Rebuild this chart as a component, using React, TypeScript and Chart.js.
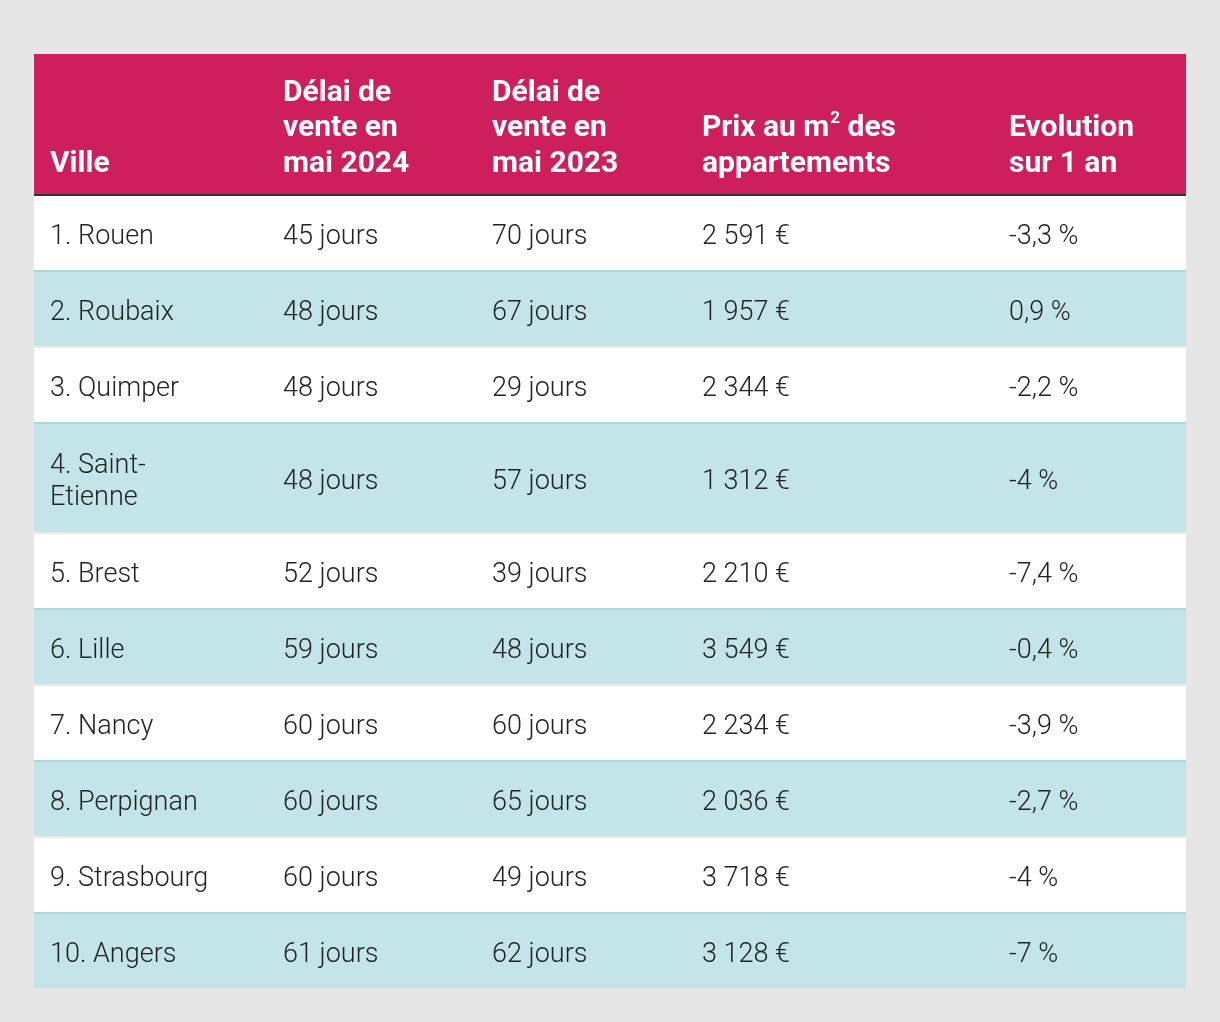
import React, { useEffect, useRef } from "react";
import { Chart, registerables } from "chart.js";
Chart.register(...registerables);

const headers: string[][] = [
  ["Ville"],
  ["Délai de", "vente en", "mai 2024"],
  ["Délai de", "vente en", "mai 2023"],
  ["Prix au m² des", "appartements"],
  ["Evolution", "sur 1 an"],
];
const cities: string[][] = [
  ["1. Rouen"],
  ["2. Roubaix"],
  ["3. Quimper"],
  ["4. Saint-", "Etienne"],
  ["5. Brest"],
  ["6. Lille"],
  ["7. Nancy"],
  ["8. Perpignan"],
  ["9. Strasbourg"],
  ["10. Angers"],
];
const delai2024 = [45, 48, 48, 48, 52, 59, 60, 60, 60, 61];
const delai2023 = [70, 67, 29, 57, 39, 48, 60, 65, 49, 62];
const prixM2 = [2591, 1957, 2344, 1312, 2210, 3549, 2234, 2036, 3718, 3128];
const evolution = [-3.3, 0.9, -2.2, -4, -7.4, -0.4, -3.9, -2.7, -4, -7];

const TABLE_W = 1152;
const HEADER_H = 140;
const ROW_H = 76;
const EXTRA_LINE_H = 34;
const COL_STARTS = [0, 233, 442, 652, 959];
const PAD = 16;

const HEADER_BG = "#cc1f5b";
const TEAL = "#c3e5e9";
const TEAL_BORDER = "#acd5da";
const WHITE_BORDER = "#e9e9e9";
const DARK_BORDER = "#333333";
const TEXT = "#222222";
const HEAD_FONT = "700 30px Roboto";
const HEAD_SUP_FONT = "700 17px Roboto";
const BODY_FONT = "300 27px Roboto";

const fmtPrix = (v: number) => {
  const th = Math.floor(v / 1000);
  const rest = String(v % 1000).padStart(3, "0");
  return `${th} ${rest} €`;
};
const fmtEvol = (v: number) => `${String(v).replace(".", ",")} %`;

const rowsText: string[][][] = cities.map((c, i) => [
  c,
  [`${delai2024[i]} jours`],
  [`${delai2023[i]} jours`],
  [fmtPrix(prixM2[i])],
  [fmtEvol(evolution[i])],
]);

const rowHeights = rowsText.map(
  (r) => ROW_H + (Math.max(...r.map((c) => c.length)) - 1) * EXTRA_LINE_H
);
const TOTAL_H = HEADER_H + rowHeights.reduce((a, b) => a + b, 0);

function drawSup(ctx: CanvasRenderingContext2D, text: string, x: number, y: number) {
  const parts = text.split("²");
  let cx = x;
  parts.forEach((p, i) => {
    ctx.font = HEAD_FONT;
    ctx.fillText(p, cx, y);
    cx += ctx.measureText(p).width;
    if (i < parts.length - 1) {
      ctx.font = HEAD_SUP_FONT;
      ctx.fillText("2", cx + 1, y - 10);
      cx += ctx.measureText("2").width + 1;
    }
  });
}

const tablePlugin = {
  id: "tablePlugin",
  beforeDatasetsDraw(chart: any) {
    const ctx: CanvasRenderingContext2D = chart.ctx;
    const xs = chart.scales.x;
    const ys = chart.scales.y;
    const X = (v: number) => xs.getPixelForValue(v);
    const Y = (v: number) => ys.getPixelForValue(v);
    ctx.save();
    // header
    ctx.fillStyle = HEADER_BG;
    ctx.fillRect(X(0), Y(0), X(TABLE_W) - X(0), Y(HEADER_H) - Y(0));
    ctx.textBaseline = "middle";
    ctx.fillStyle = "#ffffff";
    headers.forEach((lines, c) => {
      const n = lines.length;
      lines.forEach((ln, i) => {
        const yv = HEADER_H - 30 - (n - 1 - i) * 35.5;
        drawSup(ctx, ln, X(COL_STARTS[c] + PAD), Y(yv));
      });
    });
    // rows
    let top = HEADER_H;
    rowsText.forEach((row, r) => {
      const h = rowHeights[r];
      const teal = r % 2 === 1;
      ctx.fillStyle = teal ? TEAL : "#ffffff";
      ctx.fillRect(X(0), Y(top), X(TABLE_W) - X(0), Y(top + h) - Y(top));
      ctx.fillStyle = r === 0 ? DARK_BORDER : teal ? TEAL_BORDER : WHITE_BORDER;
      ctx.fillRect(X(0), Y(top), X(TABLE_W) - X(0), Y(top + 2) - Y(top));
      const center = top + 2 + (h - 2) / 2 + 4.5;
      ctx.fillStyle = TEXT;
      ctx.font = BODY_FONT;
      row.forEach((lines, c) => {
        const n = lines.length;
        lines.forEach((ln, i) => {
          const yv = center + (i - (n - 1) / 2) * 32;
          ctx.fillText(ln, X(COL_STARTS[c] + PAD), Y(yv));
        });
      });
      top += h;
    });
    ctx.restore();
  },
};

export default function App() {
  const ref = useRef<HTMLCanvasElement | null>(null);
  useEffect(() => {
    document.body.style.margin = "0";
    const chart = new Chart(ref.current as HTMLCanvasElement, {
      type: "scatter",
      data: { datasets: [{ data: [], pointRadius: 0 }] },
      options: {
        animation: false,
        responsive: false,
        maintainAspectRatio: false,
        devicePixelRatio: 1,
        layout: { padding: { left: 34, right: 34, top: 54, bottom: 1022 - 54 - TOTAL_H } },
        plugins: { legend: { display: false }, tooltip: { enabled: false } },
        scales: {
          x: { type: "linear", min: 0, max: TABLE_W, display: false },
          y: { type: "linear", min: 0, max: TOTAL_H, reverse: true, display: false },
        },
      },
      plugins: [tablePlugin],
    } as any);
    return () => chart.destroy();
  }, []);
  return (
    <div style={{ width: 1220, height: 1022, background: "#e6e6e6" }}>
      <canvas ref={ref} width={1220} height={1022} style={{ display: "block" }} />
    </div>
  );
}
